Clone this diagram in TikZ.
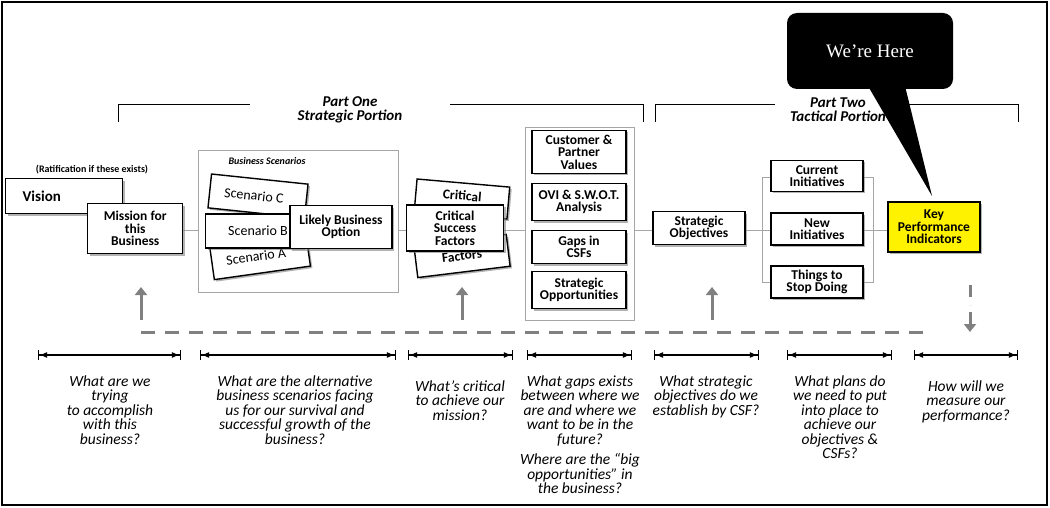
\documentclass[tikz,border=0pt]{standalone}
\usepackage{fontspec}
\setmainfont{Carlito}
\usetikzlibrary{shadows,arrows.meta,calc}
\begin{document}
\begin{tikzpicture}[x=1pt,y=-1pt,
 box/.style={draw,line width=1.4pt,fill=white,drop shadow={shadow xshift=2pt,shadow yshift=-2pt,opacity=0.6},align=center,font=\bfseries\fontsize{13.5}{12.5}\selectfont,inner sep=1pt},
 card/.style={draw,line width=1.4pt,fill=white,drop shadow={shadow xshift=2pt,shadow yshift=-2pt,opacity=0.6},minimum width=97pt,minimum height=34pt,font=\fontsize{14}{14}\selectfont},
 q/.style={align=center,font=\itshape\fontsize{15.5}{14.5}\selectfont,anchor=north},
 dim/.style={{Bar[width=10pt]Latex[length=8pt]}-{Latex[length=8pt]Bar[width=10pt]},line width=1.2pt},
 grl/.style={draw=gray!70,thick},
 gdash/.style={draw=gray,line width=3pt,dash pattern=on 14pt off 10pt},
 garr/.style={gray,line width=3pt,-{Triangle[length=8pt,width=12pt]}}]
\useasboundingbox (0,0) rectangle (1050,508);
\draw[line width=1.5pt] (2,2) rectangle (1047,505);
% brackets
\draw[thick] (118,122) -- (118,104) -- (250,104) (450,104) -- (643,104) -- (643,122);
\draw[thick] (655,122) -- (655,104) -- (775,104) (905,104) -- (1018,104) -- (1018,122);
\node[font=\bfseries\itshape\fontsize{15}{14}\selectfont,align=center] (p1) at (350,110) {Part One\\Strategic Portion};
\node[font=\bfseries\itshape\fontsize{15}{14}\selectfont,align=center] (p2) at (838,110) {Part Two\\Tactical Portion};
% main line
\draw[grl] (182,230) -- (653,230);
\draw[grl] (745,230) -- (771,230) (863,230) -- (888,230);
\draw[grl] (771,177) -- (762,177) -- (762,282) -- (771,282);
\draw[grl] (863,177) -- (873,177) -- (873,282) -- (863,282);
% left
\node[font=\bfseries\fontsize{10}{10}\selectfont] (rat) at (92,170) {(Ratification if these exists)};
\node[box,minimum width=117pt,minimum height=35pt,anchor=north west,font=\bfseries\fontsize{15}{15}\selectfont] (vis) at (5,178) {\hspace*{-45pt}Vision};
\node[box,minimum width=95pt,minimum height=50pt,anchor=north west] (mis) at (87,203) {Mission for\\this\\Business};
\draw[draw=gray!70,fill=white,thick] (198,150) rectangle (398,292);
\node[font=\bfseries\itshape\fontsize{10}{10}\selectfont] (bs) at (267,161) {Business Scenarios};
\node[card,rotate=-6] (sc) at (258,196) {Scenario C\hspace*{8pt}};
\node[card,rotate=8] (sa) at (260,256) {Scenario A\hspace*{8pt}};
\node[card] (sb) at (254,231) {\hspace*{8pt}Scenario B};
\node[box,minimum width=102pt,minimum height=43pt] (lbo) at (341,227) {Likely Business\\Option};
\node[card,rotate=-5,minimum height=32pt,font=\bfseries\fontsize{13.5}{13}\selectfont,minimum width=93pt] (c1) at (462,199) {\raisebox{7pt}{Critical}};
\node[card,rotate=7,minimum height=32pt,font=\bfseries\fontsize{13.5}{13}\selectfont,minimum width=93pt] (c3) at (462,256) {\raisebox{-7pt}{Factors}};
\node[box,minimum width=97pt,minimum height=46pt] (csf) at (455,228) {Critical\\Success\\Factors};
\draw[draw=gray!70,thick,fill=white] (525,127) rectangle (634,320);
\node[box,minimum width=94pt,minimum height=43pt] (cpv) at (579,152) {Customer \&\\Partner\\Values};
\node[box,minimum width=94pt,minimum height=37pt] (ovi) at (579,202) {OVI \& S.W.O.T.\\Analysis};
\node[box,minimum width=94pt,minimum height=33pt] (gap) at (579,247) {Gaps in\\CSFs};
\node[box,minimum width=94pt,minimum height=37pt] (sop) at (579,290) {Strategic\\Opportunities};
\node[box,minimum width=92pt,minimum height=33pt] (so) at (699,228) {Strategic\\Objectives};
\node[box,minimum width=92pt,minimum height=31pt] (ci) at (817,176) {Current\\Initiatives};
\node[box,minimum width=92pt,minimum height=32pt] (ni) at (817,229) {New\\Initiatives};
\node[box,minimum width=92pt,minimum height=32pt] (ts) at (817,282) {Things to\\Stop Doing};
\node[box,fill=yellow,minimum width=92pt,minimum height=50pt] (kpi) at (934,227) {Key\\Performance\\Indicators};
% callout
\fill (905,86) -- (932,196) -- (868,86) -- cycle;
\node[fill=black,rounded corners=10pt,minimum width=166pt,minimum height=76pt,text=white,font=\fontspec{Liberation Serif}\fontsize{19}{19}\selectfont] (here) at (870,51) {We’re Here};
% feedback
\draw[gdash] (141,332) -- (928,332);
\draw[garr] (141,320) -- (141,287);
\draw[garr] (462,320) -- (462,287);
\draw[garr] (712,320) -- (712,287);
\draw[gray,line width=3pt,dash pattern=on 12pt off 8pt] (970,285) -- (970,305);
\draw[garr] (970,312) -- (970,332);
% dims
\coordinate (d1) at (38,355);\coordinate (d2) at (200,355);\coordinate (d3) at (408,355);\coordinate (d4) at (527,355);\coordinate (d5) at (654,355);\coordinate (d6) at (787,355);\coordinate (d7) at (914,355);
\coordinate (e1) at (181,355);\coordinate (e2) at (396,355);\coordinate (e3) at (513,355);\coordinate (e4) at (632,355);\coordinate (e5) at (759,355);\coordinate (e6) at (892,355);\coordinate (e7) at (1018,355);
\foreach \i in {1,...,7} \draw[dim] (d\i) -- (e\i);
\node[q] (q1) at (110,372) {What are we\\trying\\to accomplish\\with this\\business?};
\node[q] (q2) at (295,372) {What are the alternative\\business scenarios facing\\us for our survival and\\successful growth of the\\business?};
\node[q] (q3) at (460,377) {What’s critical\\to achieve our\\mission?};
\node[q] (q4) at (580,372) {What gaps exists\\between where we\\are and where we\\want to be in the\\future?};
\node[q] (q4b) at (580,450) {Where are the “big\\opportunities” in\\the business?};
\node[q] (q5) at (706,372) {What strategic\\objectives do we\\establish by CSF?};
\node[q] (q6) at (840,372) {What plans do\\we need to put\\into place to\\achieve our\\objectives \&\\CSFs?};
\node[q] (q7) at (966,377) {How will we\\measure our\\performance?};
\end{tikzpicture}
\end{document}
